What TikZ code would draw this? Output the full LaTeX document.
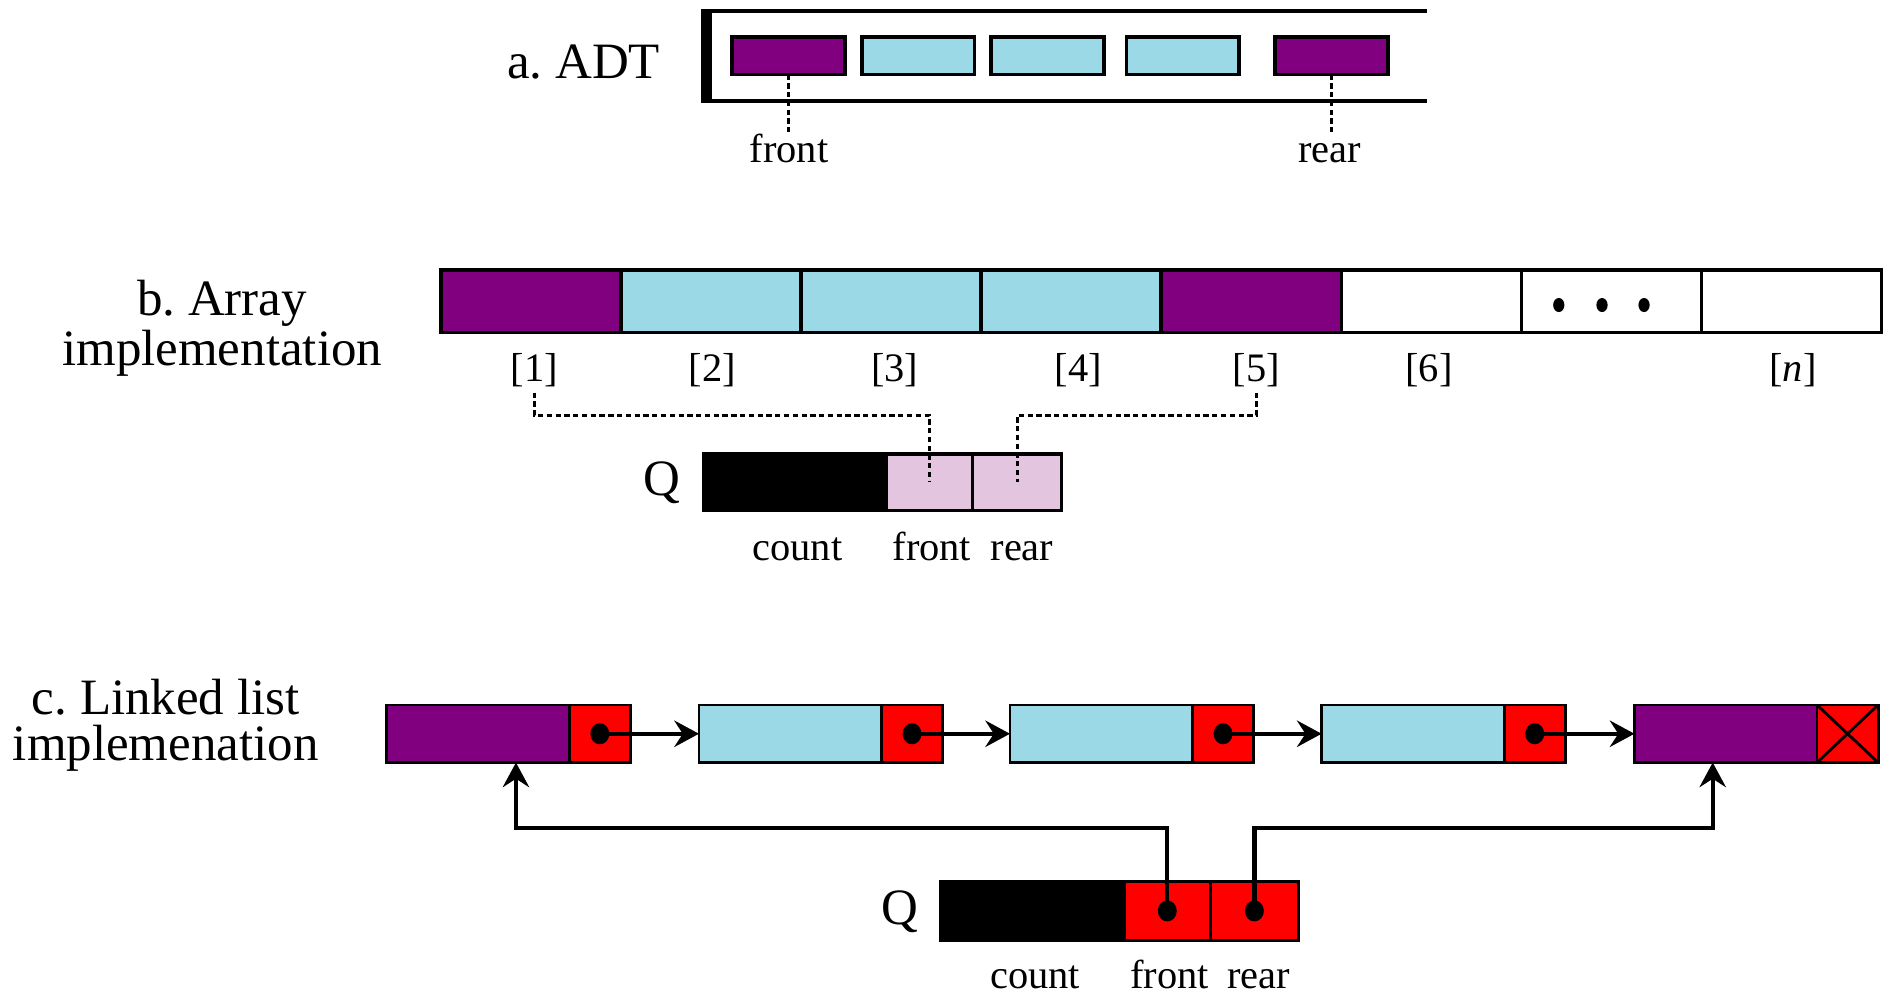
\documentclass[tikz,border=0pt]{standalone}
\usepackage{fontspec}
\setmainfont{Liberation Serif}
\usepackage{tikz}
\usetikzlibrary{arrows.meta,positioning}
\frenchspacing

\definecolor{qpurple}{RGB}{128,0,128}
\definecolor{qcyan}{RGB}{155,217,230}
\definecolor{qpink}{RGB}{227,197,224}
\definecolor{qred}{RGB}{255,0,0}

\tikzset{
  title/.style={font=\fontsize{14.5}{13}\selectfont, inner sep=1pt},
  lbl/.style={font=\fontsize{11.5}{13}\selectfont, inner sep=1pt, text height=1.6ex, text depth=.4ex, anchor=base},
  cell/.style={draw, line width=0.9pt, inner sep=0pt, outer sep=0pt},
  adtbox/.style={cell, line width=1.1pt, minimum width=1.129cm, minimum height=0.372cm},
  arrbox/.style={cell, line width=1pt, minimum width=1.801cm, minimum height=0.624cm},
  datab/.style={cell, line width=0.8pt, minimum width=1.825cm, minimum height=0.576cm},
  ptrb/.style={cell, line width=0.8pt, fill=qred, minimum width=0.612cm, minimum height=0.576cm},
  ptrdash/.style={line width=0.85pt, dash pattern=on 1.5pt off 1pt},
  link/.style={line width=1.25pt, -{Stealth[length=7pt,width=7.5pt,inset=2.4pt]}}
}

\begin{document}
\begin{tikzpicture}[x=0.012009cm, y=-0.012009cm]
\useasboundingbox (0,0) rectangle (1568,829);

% a. ADT
\node[title] (ta) at (486,52) {a. ADT};
\draw[line width=1.1pt] (1188,9) -- (588,9) -- (588,84) -- (1188,84);
\draw[line width=3pt] (588.5,7.5) -- (588.5,85.5);
\node[adtbox, fill=qpurple] (a1) at (656.5,46.5) {};
\node[adtbox, fill=qcyan] (a2) at (764.5,46.5) {};
\node[adtbox, fill=qcyan] (a3) at (872,46.5) {};
\node[adtbox, fill=qcyan] (a4) at (985,46.5) {};
\node[adtbox, fill=qpurple] (a5) at (1108.5,46.5) {};
\node[lbl] (afront) at (657,135) {front};
\node[lbl] (arear) at (1107,135) {rear};
\draw[ptrdash] (a1.south) -- (a1.south |- afront.north);
\draw[ptrdash] (a5.south) -- (a5.south |- arear.north);

% b. Array implementation
\node[title, align=center] (tb) at (185,273) {b. Array\\implementation};
\node[arrbox, fill=qpurple] (b1) at (442,251) {};
\node[arrbox, fill=qcyan, right=0pt of b1] (b2) {};
\node[arrbox, fill=qcyan, right=0pt of b2] (b3) {};
\node[arrbox, fill=qcyan, right=0pt of b3] (b4) {};
\node[arrbox, fill=qpurple, right=0pt of b4] (b5) {};
\node[arrbox, fill=white, right=0pt of b5] (b6) {};
\node[arrbox, fill=white, right=0pt of b6] (b7) {};
\node[arrbox, fill=white, right=0pt of b7] (b8) {};
\fill (1298,254) ellipse [x radius=1.6pt, y radius=2pt];
\fill (1334,254) ellipse [x radius=1.6pt, y radius=2pt];
\fill (1369,254) ellipse [x radius=1.6pt, y radius=2pt];
\node[lbl] (i1) at (445,318) {[1]};
\node[lbl] (i2) at (593,318) {[2]};
\node[lbl] (i3) at (745,318) {[3]};
\node[lbl] (i4) at (898,318) {[4]};
\node[lbl] (i5) at (1046,318) {[5]};
\node[lbl] (i6) at (1190,318) {[6]};
\node[lbl] (in) at (1493,318) {[\textit{n}]};

\node[title] (qb) at (551,402) {Q};
\node[cell, fill=black, minimum width=1.825cm, minimum height=0.564cm] (bcount) at (662,401.5) {};
\node[cell, fill=qpink, minimum width=0.865cm, minimum height=0.564cm, right=0pt of bcount] (bfront) {};
\node[cell, fill=qpink, minimum width=0.889cm, minimum height=0.564cm, right=0pt of bfront] (brear) {};
\node[lbl] (bcl) at (664,467) {count};
\node[lbl] (bfl) at (776,467) {front};
\node[lbl] (brl) at (851,467) {rear};
\draw[ptrdash] (i1.south) -- ++(0,19) -| (bfront.center);
\draw[ptrdash] (i5.south) -- ++(0,19) -| (brear.center);

% c. Linked list implementation
\node[title, align=center] (tc) at (138,604) {c. Linked list\\implemenation};
\node[datab, fill=qpurple] (d1) at (398,611) {};
\node[ptrb, right=0pt of d1] (p1) {};
\node[datab, fill=qcyan] (d2) at (658,611) {};
\node[ptrb, right=0pt of d2] (p2) {};
\node[datab, fill=qcyan] (d3) at (917,611) {};
\node[ptrb, right=0pt of d3] (p3) {};
\node[datab, fill=qcyan] (d4) at (1176.5,611) {};
\node[ptrb, right=0pt of d4] (p4) {};
\node[datab, fill=qpurple] (d5) at (1437,611) {};
\node[ptrb, right=0pt of d5] (p5) {};
\draw[line width=0.8pt] (p5.north west) -- (p5.south east) (p5.south west) -- (p5.north east);
\draw[link] (p1.center) -- (d2.west);
\draw[link] (p2.center) -- (d3.west);
\draw[link] (p3.center) -- (d4.west);
\draw[link] (p4.center) -- (d5.west);
\fill (p1.center) ellipse [x radius=2.7pt, y radius=3pt];
\fill (p2.center) ellipse [x radius=2.7pt, y radius=3pt];
\fill (p3.center) ellipse [x radius=2.7pt, y radius=3pt];
\fill (p4.center) ellipse [x radius=2.7pt, y radius=3pt];

\node[title] (qc) at (749,759) {Q};
\node[cell, fill=black, minimum width=1.837cm, minimum height=0.588cm] (ccount) at (859.5,758.5) {};
\node[cell, fill=qred, minimum width=0.865cm, minimum height=0.588cm, right=0pt of ccount] (cfront) {};
\node[cell, fill=qred, minimum width=0.877cm, minimum height=0.588cm, right=0pt of cfront] (crear) {};
\draw[link] (cfront.center) -- ++(0,-69) -| ([xshift=0.38cm]d1.south);
\draw[link] (crear.center) -- ++(0,-69) -| ([xshift=-0.13cm]d5.south);
\fill (cfront.center) ellipse [x radius=2.7pt, y radius=3pt];
\fill (crear.center) ellipse [x radius=2.7pt, y radius=3pt];
\node[lbl] (ccl) at (862,823) {count};
\node[lbl] (cfl) at (974,823) {front};
\node[lbl] (crl) at (1048,823) {rear};

\end{tikzpicture}
\end{document}
